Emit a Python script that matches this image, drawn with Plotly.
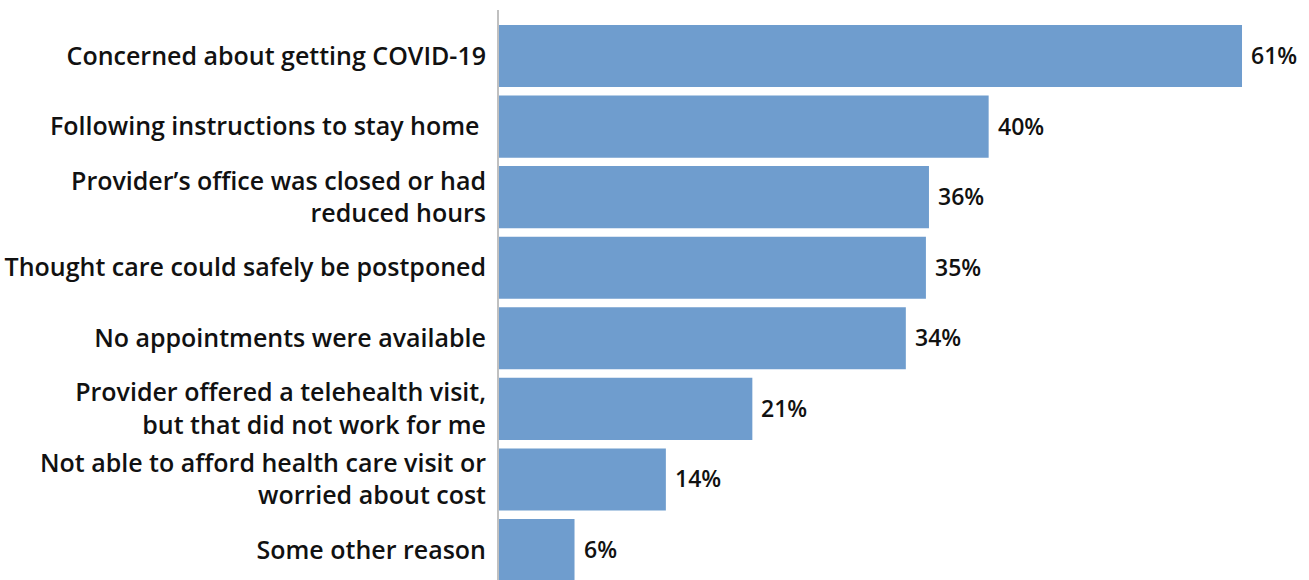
import plotly.graph_objects as go

categories = [
    "Concerned about getting COVID-19",
    "Following instructions to stay home ",
    "Provider’s office was closed or had<br>reduced hours",
    "Thought care could safely be postponed",
    "No appointments were available",
    "Provider offered a telehealth visit,<br>but that did not work for me",
    "Not able to afford health care visit or<br>worried about cost",
    "Some other reason",
]
values = [61.0, 40.2, 35.3, 35.05, 33.4, 20.8, 13.7, 6.2]
labels = ["61%", "40%", "36%", "35%", "34%", "21%", "14%", "6%"]

FONT = "Open Sans"
FS = 25

fig = go.Figure()
fig.add_trace(go.Bar(
    y=categories, x=values, orientation="h",
    marker=dict(color="#6f9dce", line=dict(width=0)),
    hoverinfo="skip",
))

for c, v, t in zip(categories, values, labels):
    fig.add_annotation(x=v, y=c, text=t, showarrow=False, xanchor="left",
                       xshift=7, yshift=1,
                       font=dict(family=FONT, size=23, color="#111111", weight=600))

fig.update_layout(
    width=1309, height=580,
    margin=dict(l=499, r=0, t=10, b=0),
    plot_bgcolor="white", paper_bgcolor="white",
    bargap=0.12,
    showlegend=False,
    font=dict(family=FONT, size=FS, color="#111111", weight=600),
)
fig.update_xaxes(range=[0, 66.5], visible=False, showgrid=False)
fig.update_yaxes(range=[7.425, -0.652], showline=True, linecolor="#c0c0c0", linewidth=2,
                 showgrid=False, ticks="", ticklabelstandoff=6,
                 tickfont=dict(family=FONT, size=FS, color="#111111", weight=600))

fig.write_html("out.html")
